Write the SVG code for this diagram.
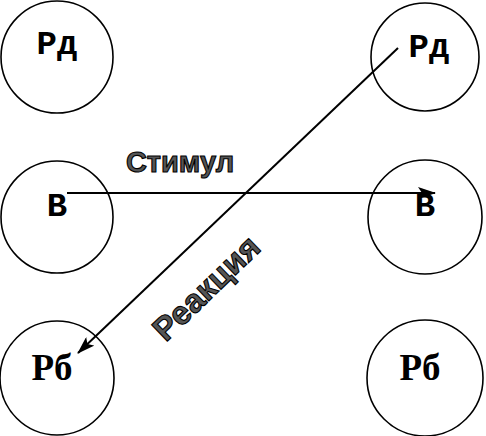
<svg xmlns="http://www.w3.org/2000/svg" width="486" height="436" viewBox="0 0 486 436">
<defs>
<style>
.c{fill:none;stroke:#000;stroke-width:1.6}
.m{font-family:"Liberation Mono",monospace;font-weight:bold;font-size:34px;fill:#000;text-anchor:middle}
.t{font-family:"Liberation Serif",serif;font-weight:bold;font-size:37px;fill:#000;text-anchor:middle}
.l{font-family:"Liberation Sans",Arial,sans-serif;font-weight:bold;fill:#555;stroke:#000;stroke-width:1.1;text-anchor:middle}
.e{stroke:#000;stroke-width:2;fill:none}
</style>
<marker id="ah" viewBox="0 0 18 12" refX="17" refY="6" markerWidth="18" markerHeight="12" markerUnits="userSpaceOnUse" orient="auto">
<path d="M0,0 L18,6 L0,12 L4,6 Z" fill="#000"/>
</marker>
</defs>
<rect width="486" height="436" fill="#fff"/>
<g id="n-rd-left"><circle class="c" cx="57" cy="57" r="56"/><text class="m" x="57" y="54">Рд</text></g>
<g id="n-rd-right"><circle class="c" cx="425" cy="57" r="54"/><text class="m" x="429" y="57">Рд</text></g>
<g id="n-v-left"><circle class="c" cx="57" cy="217" r="56"/><text class="m" x="57" y="216">В</text></g>
<g id="n-v-right"><circle class="c" cx="425" cy="217" r="57"/><text class="m" x="425" y="216">В</text></g>
<g id="n-rb-left"><circle class="c" cx="57" cy="378" r="57"/><text class="t" x="52" y="380">Рб</text></g>
<g id="n-rb-right"><circle class="c" cx="425" cy="378" r="58"/><text class="t" x="420" y="380">Рб</text></g>
<g id="edges">
<line class="e" x1="67" y1="193" x2="435" y2="193" marker-end="url(#ah)"/>
<line class="e" x1="398" y1="48" x2="78" y2="353" marker-end="url(#ah)"/>
</g>
<g id="labels">
<text class="l" x="180" y="172" font-size="29">Стимул</text>
<text class="l" font-size="33" transform="translate(214,296) rotate(-44)">Реакция</text>
</g>
</svg>
